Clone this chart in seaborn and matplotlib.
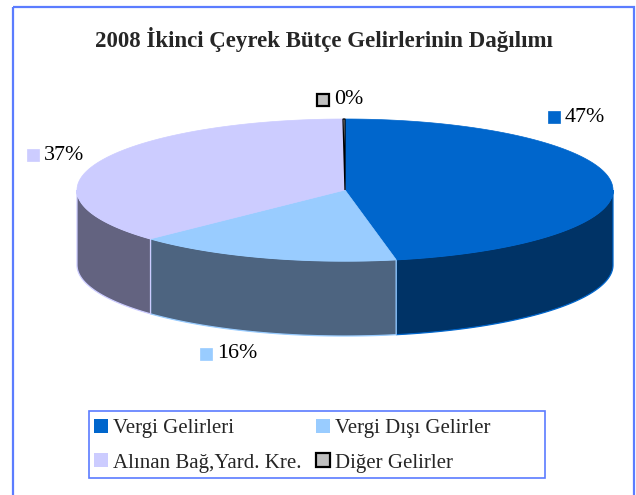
import numpy as np
import seaborn as sns
import matplotlib.pyplot as plt
from matplotlib.patches import Patch, Polygon, Rectangle

# data
categories = ["Vergi Gelirleri", "Vergi Dışı Gelirler", "Alınan Bağ,Yard. Kre.", "Diğer Gelirler"]
values = [47.0, 16.0, 37.0, 0.12]
top_colors = ["#0066CC", "#99CCFF", "#CCCCFF", "#C0C0C0"]
side_colors = ["#003366", "#4D6480", "#636380", "#606060"]
title = "2008 İkinci Çeyrek Bütçe Gelirlerinin Dağılımı"

# layout (pixels)
CX, CY, A, B, DEPTH = 345, 190, 268, 71, 75
BORDER = "#5B7CFF"
label_pos = {0: (565, 117), 1: (217, 354), 2: (44, 155), 3: (334, 100)}

sns.set_theme(style="white")
plt.rcParams["font.family"] = ["Liberation Serif", "DejaVu Serif"]

fig = plt.figure(figsize=(6.36, 4.95), dpi=100)
ax = fig.add_axes([0, 0, 1, 1])
ax.set_xlim(0, 636)
ax.set_ylim(495, 0)
ax.axis("off")

# outer frame
ax.add_patch(Rectangle((12.5, 6.5), 621, 500, fill=False, edgecolor=BORDER, lw=1.6, clip_on=False))


def pt(t, dy=0.0):
    r = np.deg2rad(t)
    return CX + A * np.sin(r), CY - B * np.cos(r) + dy


pct = np.array(values) / sum(values) * 100
bounds = np.concatenate([[0], np.cumsum(pct) * 3.6])

# side walls (front half only: 90..270 deg clockwise from top)
for i in range(len(values)):
    t0, t1 = max(bounds[i], 90), min(bounds[i + 1], 270)
    if t1 <= t0:
        continue
    ts = np.linspace(t0, t1, 80)
    top = [pt(t) for t in ts]
    bot = [pt(t, DEPTH) for t in ts[::-1]]
    ax.add_patch(Polygon(top + bot, closed=True, facecolor=side_colors[i],
                         edgecolor=top_colors[i], lw=0.9))

# top surface
for i in range(len(values)):
    ts = np.linspace(bounds[i], bounds[i + 1], max(int((bounds[i + 1] - bounds[i]) * 2), 3))
    pts = [(CX, CY)] + [pt(t) for t in ts]
    ec = "black" if i == 3 else top_colors[i]
    ax.add_patch(Polygon(pts, closed=True, facecolor=top_colors[i], edgecolor=ec,
                         lw=0.9 if i == 3 else 0.5))

# data labels with colour keys
for i, (x, y) in label_pos.items():
    ax.text(x, y, f"{pct[i]:.0f}%", fontsize=15.8, ha="left", va="center", color="black")
    ax.add_patch(Rectangle((x - 17, y - 6.5), 12, 12, facecolor=top_colors[i],
                           edgecolor="black" if i == 3 else top_colors[i],
                           lw=1.6 if i == 3 else 0.5))

ax.text(324, 40, title, fontsize=16.5, fontweight="bold", ha="center", va="center")

# legend box
ax.add_patch(Rectangle((88.5, 410.5), 456, 67, fill=False, edgecolor=BORDER, lw=1.2))

# legend: column-wise order so rows read left-to-right
order = [0, 2, 1, 3]
handles = [Patch(facecolor=top_colors[i], edgecolor="black" if i == 3 else top_colors[i],
                 lw=1.6 if i == 3 else 0, label=categories[i]) for i in order]
leg = fig.legend(handles=handles, loc="upper left", ncol=2,
                 bbox_to_anchor=(90 / 636, 1 - 415 / 495),
                 fontsize=15, frameon=False,
                 handlelength=0.65, handleheight=0.65, handletextpad=0.25,
                 borderpad=0.2, labelspacing=0.72, columnspacing=0.7, borderaxespad=0)

plt.savefig("out.png", dpi=100)
